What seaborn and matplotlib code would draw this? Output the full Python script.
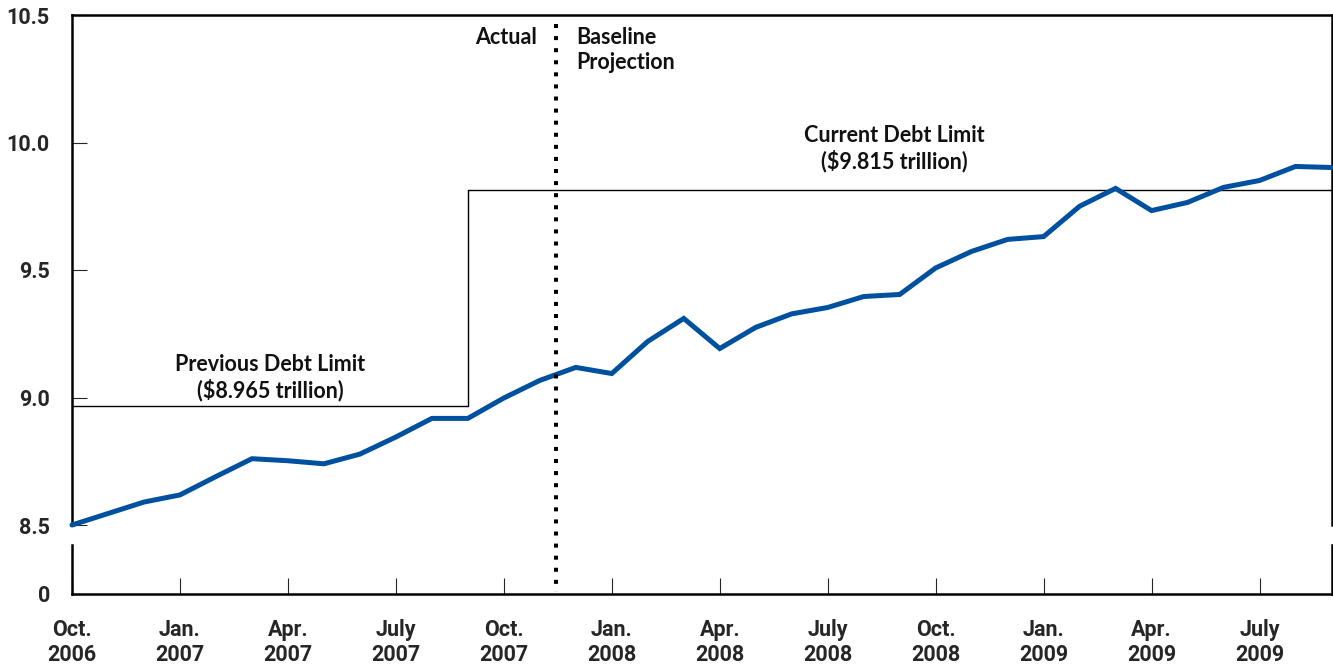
import matplotlib
matplotlib.use("Agg")
import matplotlib.pyplot as plt
import seaborn as sns
import pandas as pd
from matplotlib.lines import Line2D
from matplotlib.transforms import blended_transform_factory

# Monthly federal debt subject to limit, Oct. 2006 - Sept. 2009 (trillions of dollars)
month_index = list(range(36))
debt = [8.50, 8.545, 8.59, 8.618, 8.69, 8.76, 8.752, 8.74, 8.778, 8.845,
        8.918, 8.918, 8.998, 9.067, 9.118, 9.094, 9.22, 9.31, 9.192, 9.275,
        9.328, 9.353, 9.396, 9.404, 9.508, 9.573, 9.62, 9.631, 9.75, 9.82,
        9.733, 9.765, 9.824, 9.851, 9.906, 9.902]

# Statutory limits and the month the limit was raised
previous_limit = 8.965
current_limit = 9.815
limit_change_month = 11
projection_start = 13.45

tick_months = [0, 3, 6, 9, 12, 15, 18, 21, 24, 27, 30, 33]
tick_labels = ["Oct.\n2006", "Jan.\n2007", "Apr.\n2007", "July\n2007",
               "Oct.\n2007", "Jan.\n2008", "Apr.\n2008", "July\n2008",
               "Oct.\n2008", "Jan.\n2009", "Apr.\n2009", "July\n2009"]
y_ticks = [8.5, 9.0, 9.5, 10.0, 10.5]

sns.set_style("white")
plt.rcParams["font.family"] = ["Roboto", "DejaVu Sans"]

W, H = 1333, 671
fig = plt.figure(figsize=(W / 100, H / 100), dpi=100)

left = 72 / W
right = 1331.5 / W
ax = fig.add_axes([left, 1 - 525 / H, right - left, (525 - 15) / H])
axb = fig.add_axes([left, 1 - 594 / H, right - left, (594 - 545) / H], sharex=ax)

df = pd.DataFrame({"month": month_index, "debt": debt})
sns.lineplot(data=df, x="month", y="debt", ax=ax, color="#0050a0",
             linewidth=3.6, solid_joinstyle="miter", clip_on=False, zorder=5)

# Debt limit steps
ax.plot([0, limit_change_month], [previous_limit, previous_limit],
        color="black", linewidth=1.0, zorder=3)
ax.plot([limit_change_month, limit_change_month], [previous_limit, current_limit],
        color="black", linewidth=1.0, zorder=3)
ax.plot([limit_change_month, 35], [current_limit, current_limit],
        color="black", linewidth=1.0, zorder=3, clip_on=False)

ax.set_xlim(0, 35)
ax.set_ylim(8.5, 10.5)
axb.set_ylim(0, 1)

spine_w = 1.8
for a in (ax, axb):
    for s in a.spines.values():
        s.set_linewidth(spine_w)
        s.set_color("black")
ax.spines["bottom"].set_visible(False)
axb.spines["top"].set_visible(False)

label_size = 15.5
ax.set_yticks(y_ticks)
ax.set_yticklabels([f"{v:.1f}" for v in y_ticks])
ax.tick_params(axis="y", direction="in", length=11, width=0.8, pad=16,
               labelsize=label_size, left=True)
ax.tick_params(axis="x", bottom=False, labelbottom=False)
for lbl in ax.get_yticklabels():
    lbl.set_fontweight("bold")

axb.set_yticks([0])
axb.set_yticklabels(["0"])
axb.tick_params(axis="y", length=0, pad=16, labelsize=label_size)
axb.set_xticks(tick_months)
axb.set_xticklabels(tick_labels)
axb.tick_params(axis="x", direction="in", length=11.5, width=0.8, pad=18,
                labelsize=label_size, bottom=True)
for lbl in axb.get_xticklabels() + axb.get_yticklabels():
    lbl.set_fontweight("bold")
    lbl.set_linespacing(1.2)
ax.set_xlabel("")
ax.set_ylabel("")
axb.set_xlabel("")
axb.set_ylabel("")

# Divider between actual values and the baseline projection
trans = blended_transform_factory(ax.transData, fig.transFigure)
fig.add_artist(Line2D([projection_start, projection_start],
                      [1 - 24 / H, 1 - 592 / H], transform=trans,
                      color="black", linewidth=2.9,
                      linestyle=(0, (1, 2)), dash_capstyle="butt"))

note_font = dict(family=["Lato", "DejaVu Sans"], fontweight="bold",
                 fontsize=15.5, color="#111111")
ax.text(12.93, 10.452, "Actual", ha="right", va="top", **note_font)
ax.text(14.02, 10.452, "Baseline\nProjection", ha="left", va="top",
        linespacing=1.2, **note_font)
ax.text(22.85, 10.068, "Current Debt Limit\n($9.815 trillion)",
        ha="center", va="top", linespacing=1.2, **note_font)
ax.text(5.5, 9.17, "Previous Debt Limit\n($8.965 trillion)",
        ha="center", va="top", linespacing=1.2, **note_font)

fig.savefig("out.png", dpi=100, facecolor="white")
